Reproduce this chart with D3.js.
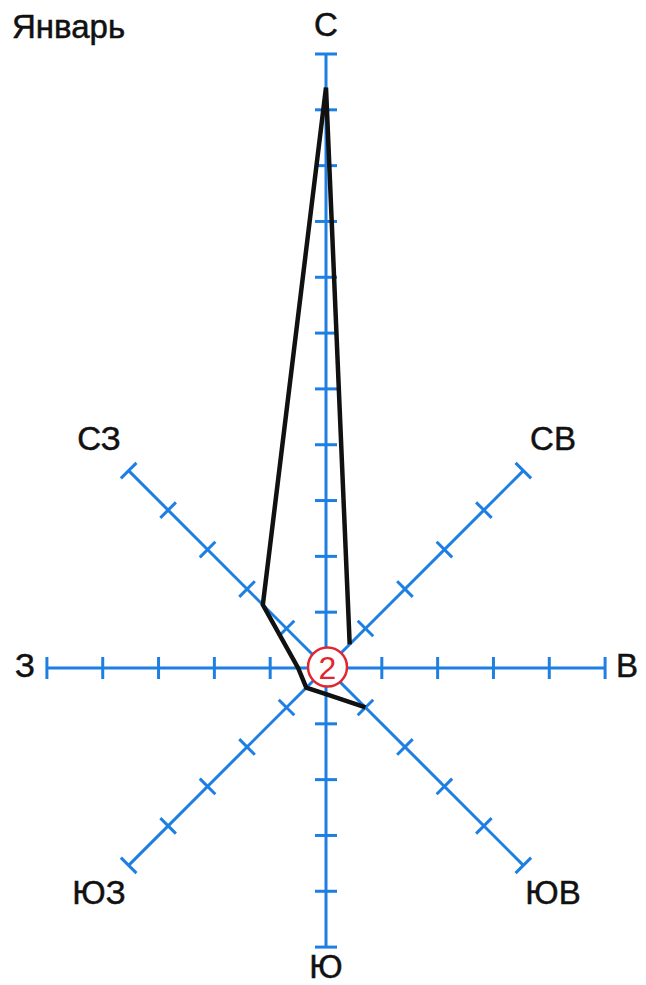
<!DOCTYPE html>
<html>
<head>
<meta charset="utf-8">
<script src="https://cdn.jsdelivr.net/npm/d3@7"></script>
<style>
  body { margin: 0; background: #fff; }
  svg text { font-family: 'Liberation Sans', Arial, sans-serif; }
</style>
</head>
<body>
<svg id="rose" width="646" height="985"></svg>
<script>
// роза ветров, январь
var monthLabel = 'Январь';
var directions = ['С', 'СВ', 'В', 'ЮВ', 'Ю', 'ЮЗ', 'З', 'СЗ'];
var axisUnits = [11, 5, 5, 5, 5, 5, 5, 5];       // length of every axis, in days
var windDays = [10.4, 0.6, null, 1, 0.47, 0.5, 0.5, 1.6];
var calmDays = 2;                                // штиль, in the circle
var pathOrder = [2, 3, 4, 5, 6, 7, 0, 1];        // В (no line) -> ЮВ ... -> СВ

var cx = 326, cy = 668;
var blue = '#1e7fe3', red = '#e0262f';

var svg = d3.select('#rose');
var r = d3.scaleLinear().domain([0, 11]).range([0, 614]);
var angle = d3.scaleLinear().domain([0, 8]).range([0, 360]);

var g = svg.append('g').attr('transform', 'translate(' + cx + ',' + cy + ')');

// axes with ticks
var axes = g.selectAll('.axis')
  .data(directions.map(function(d, i) { return { name: d, i: i, len: axisUnits[i] }; }))
  .enter().append('g')
  .attr('class', 'axis')
  .attr('transform', function(d) { return 'rotate(' + angle(d.i) + ')'; });

axes.append('line')
  .attr('x1', 0).attr('y1', 0)
  .attr('x2', 0).attr('y2', function(d) { return -r(d.len); })
  .attr('stroke', blue).attr('stroke-width', 3);

axes.selectAll('.tick')
  .data(function(d) { return d3.range(1, d.len + 1); })
  .enter().append('line')
  .attr('class', 'tick')
  .attr('x1', -11).attr('x2', 11)
  .attr('y1', function(k) { return -r(k); })
  .attr('y2', function(k) { return -r(k); })
  .attr('stroke', blue).attr('stroke-width', 3);

// the wind line
var pts = pathOrder.map(function(i) { return { a: angle(i) * Math.PI / 180, v: windDays[i] }; });
var line = d3.lineRadial()
  .defined(function(d) { return d.v != null; })
  .angle(function(d) { return d.a; })
  .radius(function(d) { return r(d.v); });

g.append('path')
  .attr('d', line(pts))
  .attr('fill', 'none')
  .attr('stroke', '#111')
  .attr('stroke-width', 4.5)
  .attr('stroke-linejoin', 'miter');

// calm circle
g.append('circle')
  .attr('cx', 1.5).attr('cy', -1).attr('r', 19.5)
  .attr('fill', '#fff')
  .attr('stroke', red).attr('stroke-width', 2.5);
g.append('text')
  .attr('x', 1.5).attr('y', -1)
  .attr('dy', '0.36em')
  .attr('text-anchor', 'middle')
  .attr('font-size', 32)
  .attr('fill', red)
  .text(calmDays);

// direction labels
var extra = function(i) { return i % 2 ? 42 : (i === 2 || i === 6 ? 22 : (i === 4 ? 22 : 27)); };
g.selectAll('.dir')
  .data(directions)
  .enter().append('text')
  .attr('class', 'dir')
  .attr('x', function(d, i) { return (r(axisUnits[i]) + extra(i)) * Math.sin(angle(i) * Math.PI / 180); })
  .attr('y', function(d, i) { return -(r(axisUnits[i]) + extra(i)) * Math.cos(angle(i) * Math.PI / 180) - 3; })
  .attr('dy', '0.36em')
  .attr('text-anchor', 'middle')
  .attr('font-size', 33)
  .attr('fill', '#111')
  .attr('stroke', '#111').attr('stroke-width', 0.5)
  .text(function(d) { return d; });

svg.append('text')
  .attr('x', 12).attr('y', 38)
  .attr('font-size', 33)
  .attr('fill', '#111')
  .attr('stroke', '#111').attr('stroke-width', 0.5)
  .text(monthLabel);
</script>
</body>
</html>
